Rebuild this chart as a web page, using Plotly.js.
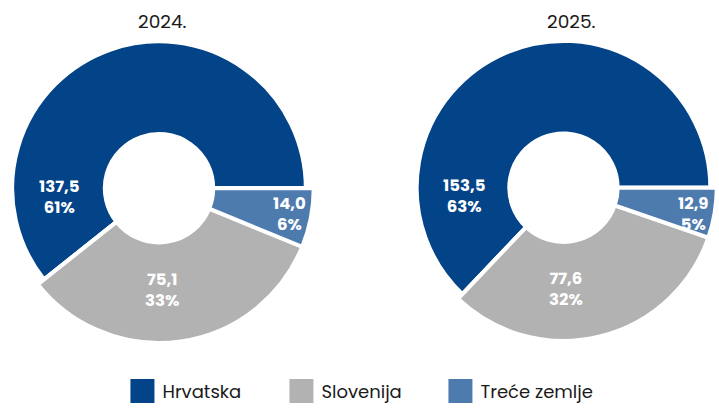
<!DOCTYPE html>
<html>
<head>
<meta charset="utf-8">
<script src="https://cdn.plot.ly/plotly-3.0.1.min.js"></script>
<style>
  html, body { margin: 0; padding: 0; background: #ffffff; }
  #chart { width: 719px; height: 410px; }
</style>
</head>
<body>
<div id="chart"></div>
<script>
// ---- data ----
const categories = ['Hrvatska', 'Slovenija', 'Treće zemlje'];
const years = ['2024.', '2025.'];
const values2024 = [137.5, 75.1, 14.0];
const values2025 = [153.5, 77.6, 12.9];

// ---- style / layout constants ----
const W = 719, H = 410;
const COLORS = ['#034388', '#B2B2B2', '#4E7BAE'];
const CLEAR = 'rgba(0,0,0,0)';
const FONT = 'Poppins, Inter, "DejaVu Sans", sans-serif';
const LINE_W = 4;
const HOLE_R = 57;                 // visible hole radius (px)
const donuts = [
  { year: years[0], values: values2024, cx: 159,   cy: 191,   rMain: 147, rOuter: 155,   titleX: 162 },
  { year: years[1], values: values2025, cx: 563.5, cy: 190.5, rMain: 147, rOuter: 153.5, titleX: 571 }
];
const TITLE_Y = 22;
// label placement (polar, relative to donut centre; degrees, px)
const LABEL_POS = [ { ang: 185, r: 100 }, { ang: 271.5, r: 103 }, { ang: 348.5, r: 133 } ];

function domainFor(cx, cy, rVis) {
  const r = rVis + LINE_W / 2;
  return {
    x: [Math.max(0, (cx - r) / W), Math.min(1, (cx + r) / W)],
    y: [Math.max(0, (H - cy - r) / H), Math.min(1, (H - cy + r) / H)]
  };
}
function holeFor(rVis) {
  const r = rVis + LINE_W / 2;
  return (HOLE_R - LINE_W / 2) / r;
}
function fmtVal(v) { return v.toFixed(1).replace('.', ','); }

const traces = [];
const annotations = [];

donuts.forEach((d, k) => {
  const total = d.values.reduce((a, b) => a + b, 0);
  // counterclockwise; first slice ends its sweep at 3 o'clock
  const rotation = 90 - 360 * d.values[0] / total;

  traces.push({
    type: 'pie',
    labels: categories,
    values: d.values,
    sort: false,
    direction: 'counterclockwise',
    rotation: rotation,
    hole: holeFor(d.rMain),
    domain: domainFor(d.cx, d.cy, d.rMain),
    marker: { colors: COLORS, line: { color: '#ffffff', width: LINE_W } },
    textinfo: 'none',
    hoverinfo: 'label+value+percent',
    showlegend: k === 0
  });
  traces.push({
    type: 'pie',
    labels: categories,
    values: d.values,
    sort: false,
    direction: 'counterclockwise',
    rotation: rotation,
    hole: holeFor(d.rOuter),
    domain: domainFor(d.cx, d.cy, d.rOuter),
    marker: {
      colors: [CLEAR, COLORS[1], COLORS[2]],
      line: { color: [CLEAR, '#ffffff', '#ffffff'], width: LINE_W }
    },
    textinfo: 'none',
    hoverinfo: 'skip',
    showlegend: false
  });

  annotations.push({
    xref: 'paper', yref: 'paper',
    x: d.titleX / W, y: (H - TITLE_Y) / H,
    xanchor: 'center', yanchor: 'middle',
    showarrow: false,
    text: d.year,
    font: { family: FONT, size: 18.5, color: '#1a1a1a' }
  });

  d.values.forEach((v, i) => {
    const p = LABEL_POS[i];
    const a = p.ang * Math.PI / 180;
    const sx = d.cx + p.r * Math.cos(a);
    const sy = d.cy - p.r * Math.sin(a);
    annotations.push({
      xref: 'paper', yref: 'paper',
      x: sx / W, y: (H - sy) / H,
      xanchor: 'center', yanchor: 'middle',
      showarrow: false,
      align: 'center',
      text: '<b>' + fmtVal(v) + '<br>' + Math.round(100 * v / total) + '%</b>',
      font: { family: FONT, size: 16.5, color: '#ffffff' }
    });
  });
});

const layout = {
  width: W, height: H,
  margin: { l: 0, r: 0, t: 0, b: 0 },
  paper_bgcolor: '#ffffff',
  plot_bgcolor: '#ffffff',
  font: { family: FONT, color: '#1a1a1a' },
  showlegend: true,
  legend: {
    orientation: 'h',
    x: 0.502, xanchor: 'center',
    y: (H - 397) / H, yanchor: 'middle',
    entrywidth: 114, entrywidthmode: 'pixels',
    font: { family: FONT, size: 18, color: '#1a1a1a' },
    traceorder: 'normal'
  },
  annotations: annotations
};

Plotly.newPlot('chart', traces, layout, { displayModeBar: false, staticPlot: true }).then(() => {
  document.querySelectorAll('.legend path.legendpie').forEach(p => {
    p.setAttribute('d', 'M14,14H-14V-14H14Z');
  });
});
</script>
</body>
</html>
